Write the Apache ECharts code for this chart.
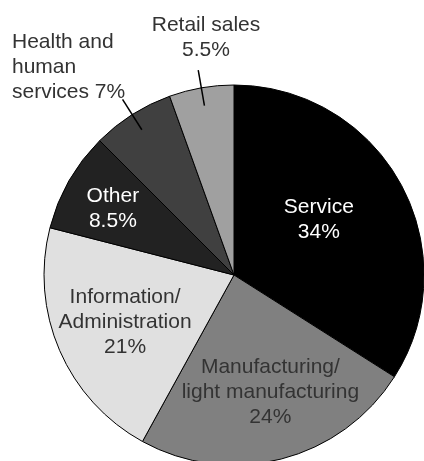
<!DOCTYPE html>
<html>
<head>
<meta charset="utf-8">
<script src="https://cdn.jsdelivr.net/npm/echarts@6/dist/echarts.min.js"></script>
<style>
  html, body { margin: 0; padding: 0; background: #fff; }
  #chart { width: 424px; height: 461px; }
</style>
</head>
<body>
<div id="chart"></div>
<script>
// Employment by sector (percent of total)
const sectors = ['Service', 'Manufacturing/\nlight manufacturing', 'Information/\nAdministration', 'Other', 'Health and\nhuman\nservices', 'Retail sales'];
const shares = [34, 24, 21, 8.5, 7, 5.5];
const fills = ['#000000', '#808080', '#e0e0e0', '#222222', '#404040', '#a0a0a0'];
const textColors = ['#ffffff', '#333333', '#333333', '#ffffff', '#333333', '#333333'];
const outsideLabel = [false, false, false, false, true, true];

const FONT = '"Liberation Sans", Arial, sans-serif';

// nudges for labels drawn inside the slices
const insideNudge = [[-1, -8], [12, 22], [-19, 8], [-36, -18], [0, 0], [0, 0]];

function fmtLabel(p) {
  return p.dataIndex === 4 ? p.name + ' ' + p.value + '%' : p.name + '\n' + p.value + '%';
}

const mainData = sectors.map((name, i) => ({
  name: name,
  value: shares[i],
  itemStyle: { color: fills[i] },
  label: outsideLabel[i]
    ? { position: 'outside', color: '#333333' }
    : { position: 'inside', color: textColors[i] }
}));

// leader lines for the two narrow slices
const leaderData = sectors.map((name, i) => ({
  name: name,
  value: shares[i],
  label: { show: outsideLabel[i] },
  labelLine: { show: outsideLabel[i] }
}));

const chart = echarts.init(document.getElementById('chart'));
chart.setOption({
  animation: false,
  series: [
    {
      type: 'pie',
      center: [234, 275],
      radius: [0, 190],
      startAngle: 90,
      clockwise: true,
      silent: true,
      data: mainData,
      itemStyle: { borderColor: '#000', borderWidth: 1 },
      label: {
        formatter: fmtLabel,
        fontFamily: FONT,
        fontSize: 21,
        lineHeight: 25,
        align: 'center',
        overflow: 'none'
      },
      labelLine: { show: false },
      labelLayout: function (p) {
        if (p.dataIndex === 4) {
          return { x: 12, y: 67, align: 'left', verticalAlign: 'middle', width: 200 };
        }
        if (p.dataIndex === 5) {
          return { x: 206, y: 38, align: 'center', verticalAlign: 'middle', width: 200 };
        }
        const n = insideNudge[p.dataIndex];
        return { dx: n[0], dy: n[1] };
      }
    },
    {
      type: 'pie',
      center: [234, 275],
      radius: [0, 172],
      startAngle: 90,
      clockwise: true,
      silent: true,
      z: 5,
      data: leaderData,
      itemStyle: { color: 'rgba(0,0,0,0)', borderWidth: 0 },
      label: {
        position: 'outside',
        formatter: ' ',
        fontSize: 1
      },
      labelLine: {
        length: 36,
        length2: 0,
        lineStyle: { color: '#000', width: 1.5 }
      }
    }
  ]
});
</script>
</body>
</html>
